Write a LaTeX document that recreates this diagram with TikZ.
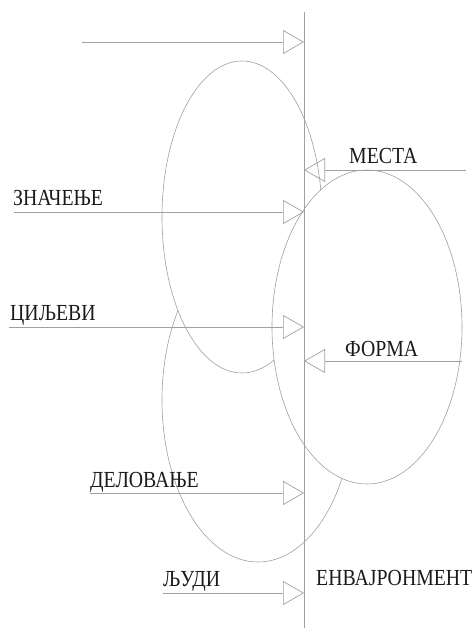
\documentclass[tikz,border=0pt]{standalone}
\usepackage{fontspec}
\setmainfont{Liberation Serif}[FakeStretch=0.86]
\usetikzlibrary{arrows.meta,shapes.geometric}
\definecolor{ln}{HTML}{A0A0A0}
\definecolor{tx}{HTML}{1A1A1A}
\tikzset{
  oval/.style={ellipse, draw=ln, line width=0.6pt, fill=white, inner sep=0pt, outer sep=0pt},
  flow/.style={draw=ln, line width=0.7pt, -{Triangle[open, length=21pt, width=24pt]}},
  lbl/.style={anchor=base west, inner sep=0pt, text=tx, font=\fontsize{23}{25}\selectfont}
}
\begin{document}
\begin{tikzpicture}[x=1pt,y=-1pt]
\useasboundingbox (0,0) rectangle (475,628);
% ellipses (drawn back to front, filled white)
\node[oval, minimum width=192pt, minimum height=324pt] (e3) at (258,400) {};
\node[oval, minimum width=160pt, minimum height=312pt] (e1) at (242,217) {};
\node[oval, minimum width=190pt, minimum height=314pt] (e2) at (367,327) {};
% environment line
\coordinate (vt) at (304,12);
\coordinate (vb) at (304,628);
\draw[ln, line width=0.7pt] (vt) -- (vb);
% labels
\node[lbl] (zn) at (13,206) {ЗНАЧЕЊЕ};
\node[lbl] (ci) at (10,320) {ЦИЉЕВИ};
\node[lbl] (de) at (90,487) {ДЕЛОВАЊЕ};
\node[lbl] (lj) at (163,586) {ЉУДИ};
\node[lbl] (me) at (349,164) {МЕСТА};
\node[lbl] (fo) at (345,356) {ФОРМА};
\node[lbl] (en) at (316,585) {ЕНВАЈРОНМЕНТ};
% arrow endpoints
\coordinate (s0) at (82,42);   \coordinate (t0) at (304,42);
\coordinate (s1) at (14,212);  \coordinate (t1) at (304,212);
\coordinate (s2) at (9,327);   \coordinate (t2) at (304,327);
\coordinate (s3) at (90,493);  \coordinate (t3) at (304,493);
\coordinate (s4) at (163,593); \coordinate (t4) at (304,593);
\coordinate (s5) at (466,170); \coordinate (t5) at (304,170);
\coordinate (s6) at (462,361); \coordinate (t6) at (304,361);
\foreach \i in {0,...,6} {\draw[flow] (s\i) -- (t\i);}
\end{tikzpicture}
\end{document}
